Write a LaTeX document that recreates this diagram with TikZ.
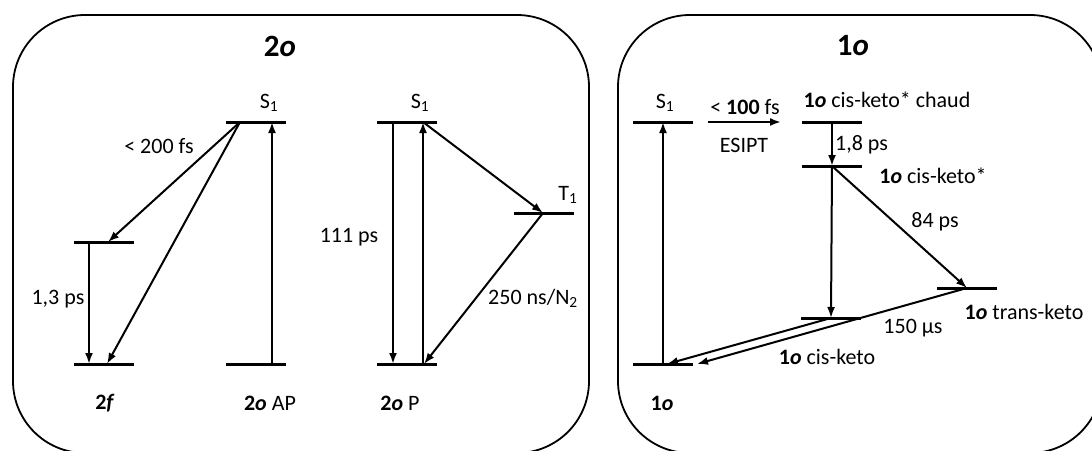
\documentclass[tikz,border=0pt]{standalone}
\usepackage{fontspec}
\setmainfont{Carlito}
\usetikzlibrary{arrows.meta}
\newcommand\cpd[2]{\textbf{#1\textit{#2}}}

\begin{document}
\begin{tikzpicture}[x=1pt,y=-1pt,
    lbl/.style={font=\fontsize{22}{26}\selectfont, inner sep=0pt},
    ttl/.style={font=\fontsize{31}{36}\selectfont\bfseries, inner sep=0pt},
    lvl/.style={line width=3pt},
    tr/.style={line width=2pt, -{Latex[length=11pt,width=8pt]}},
    panel/.style={line width=1.8pt, rounded corners=72pt}]
  \useasboundingbox (0,0) rectangle (1092,450);
  \begin{scope}
    \clip (0,0) rectangle (1092,450);
    \draw[panel] (13,15) rectangle (589,453);
    \draw[panel] (618,15) rectangle (1102,453);
  \end{scope}
  \foreach \n/\x/\y in {aS/256/122, pS/407/122, pT/544/213, fM/104/242, f0/104/364, a0/256/364, p0/407/364,
      oS/663/122, hot/832/122, ckx/832/166, tk/967/288, ck/831/318, o0/663/364} {
    \coordinate (\n) at (\x,\y);
    \draw[lvl] (\x-30,\y) -- (\x+30,\y);
  }
  % 2o
  \node[ttl] (t2o) at (280,46) {2\textit{o}};
  \node[lbl] (laS) at (269,103) {S\textsubscript{1}};
  \node[lbl] (lpS) at (420,103) {S\textsubscript{1}};
  \node[lbl] (lpT) at (568,195) {T\textsubscript{1}};
  \node[lbl] (lf) at (105,403) {\cpd{2}{f}};
  \node[lbl] (la) at (270,403) {\cpd{2}{o} AP};
  \node[lbl] (lp) at (400,403) {\cpd{2}{o} P};
  \node[lbl] (k200) at (159,146) {< 200 fs};
  \node[lbl] (k13) at (58,299) {1,3 ps};
  \node[lbl] (k111) at (349,237) {111 ps};
  \node[lbl] (k250) at (533,298) {250 ns/N\textsubscript{2}};
  \draw[tr] ([xshift=-16]aS) -- ([xshift=4]fM);
  \draw[tr] ([xshift=-16]aS) -- ([xshift=3]f0);
  \draw[tr] ([xshift=-15]fM) -- ([xshift=-15]f0);
  \draw[tr] ([xshift=16]a0) -- ([xshift=16]aS);
  \draw[tr] ([xshift=-14]pS) -- ([xshift=-14]p0);
  \draw[tr] ([xshift=16]p0) -- ([xshift=16]pS);
  \draw[tr] ([xshift=16]pS) -- ([xshift=-1]pT);
  \draw[tr] ([xshift=-1]pT) -- ([xshift=17]p0);
  % 1o
  \node[ttl] (t1o) at (853,46) {1\textit{o}};
  \node[lbl] (loS) at (665,103) {S\textsubscript{1}};
  \node[lbl] (k100) at (745,107) {< \textbf{100} fs};
  \node[lbl] (kes) at (744,145) {ESIPT};
  \node[lbl] (lhot) at (887,100) {\cpd{1}{o} cis-keto* chaud};
  \node[lbl, anchor=west] (k18) at (835,145) {1,8 ps};
  \node[lbl] (lckx) at (933,176) {\cpd{1}{o} cis-keto*};
  \node[lbl] (k84) at (935,222) {84 ps};
  \node[lbl] (ltk) at (1024,312) {\cpd{1}{o} trans-keto};
  \node[lbl] (k150) at (913,328) {150 µs};
  \node[lbl] (lck) at (827,357) {\cpd{1}{o} cis-keto};
  \node[lbl] (lo) at (662,403) {\cpd{1}{o}};
  \draw[tr] (o0) -- (oS);
  \draw[tr] ([xshift=45]oS) -- ([xshift=-51]hot);
  \draw[tr] (hot) -- (ckx);
  \draw[tr] (ckx) -- (ck);
  \draw[tr] (ckx) -- (tk);
  \draw[tr] (ck) -- ([xshift=4]o0);
  \draw[tr] (tk) -- ([xshift=34]o0);
\end{tikzpicture}
\end{document}
